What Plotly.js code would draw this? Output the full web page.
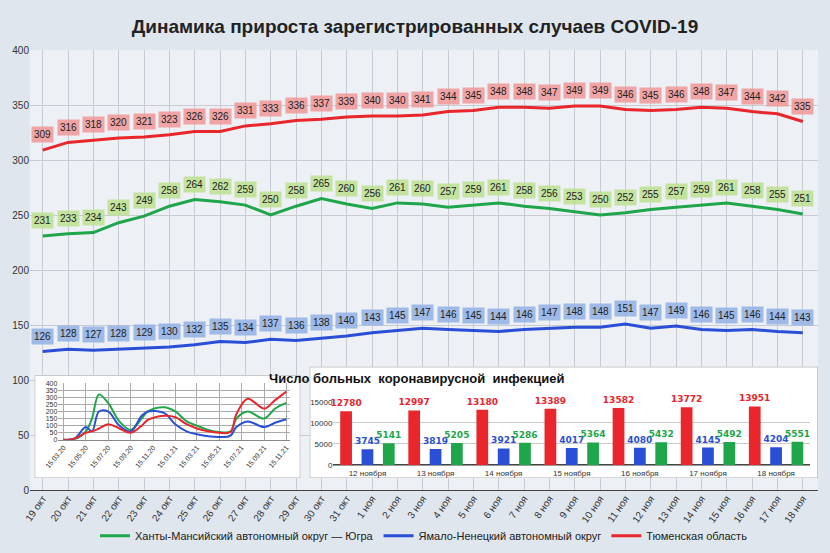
<!DOCTYPE html>
<html><head><meta charset="utf-8">
<script src="https://cdn.plot.ly/plotly-3.0.1.min.js"></script>
<style>body{margin:0}</style></head>
<body><div id="myPlot" style="width:830px;height:553px"></div>
<script>
var days = ["19 окт","20 окт","21 окт","22 окт","23 окт","24 окт","25 окт","26 окт","27 окт","28 окт","29 окт","30 окт","31 окт",
  "1 ноя","2 ноя","3 ноя","4 ноя","5 ноя","6 ноя","7 ноя","8 ноя","9 ноя","10 ноя","11 ноя","12 ноя","13 ноя","14 ноя","15 ноя","16 ноя","17 ноя","18 ноя"];
var tyumen = [309,316,318,320,321,323,326,326,331,333,336,337,339,340,340,341,344,345,348,348,347,349,349,346,345,346,348,347,344,342,335];
var hmao = [231,233,234,243,249,258,264,262,259,250,258,265,260,256,261,260,257,259,261,258,256,253,250,252,255,257,259,261,258,255,251];
var yanao = [126,128,127,128,129,130,132,135,134,137,136,138,140,143,145,147,146,145,144,146,147,148,148,151,147,149,146,145,146,144,143];

var smallDates = ["2020-03-15","2020-04-15","2020-05-15","2020-06-01","2020-06-20","2020-07-15","2020-08-15","2020-09-15","2020-10-15","2020-11-01",
  "2020-12-15","2021-01-15","2021-02-15","2021-03-15","2021-04-15","2021-05-15","2021-06-15","2021-07-01","2021-08-01","2021-09-15","2021-10-15","2021-11-15"];
var smallRed = [0,10,50,60,80,110,80,50,100,140,170,160,110,80,60,50,55,180,290,220,280,340];
var smallGreen = [0,5,60,150,320,260,130,70,150,200,230,200,130,100,70,55,60,150,200,150,220,260];
var smallBlue = [0,10,90,60,200,200,100,60,170,200,190,110,60,40,25,20,30,90,130,90,120,145];

var barDays = ["12 ноября","13 ноября","14 ноября","15 ноября","16 ноября","17 ноября","18 ноября"];
var barRed = [12780,12997,13180,13389,13582,13772,13951];
var barBlue = [3745,3819,3921,4017,4080,4145,4204];
var barGreen = [5141,5205,5286,5364,5432,5492,5551];

var RED = "#e8262b", GREEN = "#1fa64a", BLUE = "#2a4fd6";

var data = [
  {x: days, y: hmao, mode: "lines", line: {color: GREEN, width: 3}, name: "Ханты-Мансийский автономный округ — Югра"},
  {x: days, y: yanao, mode: "lines", line: {color: BLUE, width: 3}, name: "Ямало-Ненецкий автономный округ"},
  {x: days, y: tyumen, mode: "lines", line: {color: RED, width: 3}, name: "Тюменская область"},
  // white panels behind insets
  {x: [0,1,1,0,0], y: [0,0,1,1,0], xaxis: "x2", yaxis: "y2", mode: "lines", fill: "toself", fillcolor: "white",
   line: {color: "#999", width: 1}, showlegend: false, hoverinfo: "skip"},
  {x: [0,1,1,0,0], y: [0,0,1,1,0], xaxis: "x3", yaxis: "y3", mode: "lines", fill: "toself", fillcolor: "white",
   line: {color: "#999", width: 1}, showlegend: false, hoverinfo: "skip"},
  {x: smallDates, y: smallGreen, xaxis: "x4", yaxis: "y4", mode: "lines", line: {color: GREEN, width: 2, shape: "spline"}, showlegend: false},
  {x: smallDates, y: smallBlue, xaxis: "x4", yaxis: "y4", mode: "lines", line: {color: BLUE, width: 2, shape: "spline"}, showlegend: false},
  {x: smallDates, y: smallRed, xaxis: "x4", yaxis: "y4", mode: "lines", line: {color: RED, width: 2, shape: "spline"}, showlegend: false}
];
[[barRed, RED], [barBlue, BLUE], [barGreen, GREEN]].forEach(function (s) {
  data.push({type: "bar", x: barDays, y: s[0], xaxis: "x5", yaxis: "y5", marker: {color: s[1]},
    text: s[0].map(String), textposition: "outside", cliponaxis: false, constraintext: "none",
    textfont: {color: s[1], size: 9, family: "DejaVu Sans", weight: "bold"}, showlegend: false});
});

var annotations = [];
function labels(vals, bg) {
  vals.forEach(function (v, i) {
    annotations.push({x: days[i], y: v + 14, text: String(v), showarrow: false, bgcolor: bg,
      font: {size: 10, color: "#222", family: "Arial, Liberation Sans"}, borderpad: 2});
  });
}
labels(tyumen, "rgba(240,150,150,0.85)");
labels(hmao, "rgba(190,225,150,0.9)");
labels(yanao, "rgba(150,180,230,0.9)");
annotations.push({xref: "paper", yref: "paper", x: 0.68, y: 0.232, text: "<b>Число больных  коронавирусной  инфекцией</b>",
  showarrow: false, font: {size: 13, color: "#111", family: "Liberation Sans, Arial"}});

var layout = {
  width: 830, height: 553,
  margin: {l: 30, r: 12, t: 50, b: 63},
  paper_bgcolor: "#dfe6ee", plot_bgcolor: "rgba(255,255,255,0.45)",
  title: {text: "<b>Динамика прироста зарегистрированных случаев COVID-19</b>", x: 0.5, y: 0.965,
    font: {size: 19, color: "#222", family: "Liberation Sans, Arial"}},
  font: {family: "Liberation Sans, Arial", size: 10, color: "#333"},
  xaxis: {tickangle: -55, showgrid: true, gridcolor: "#c8ccd2", range: [-0.5, 30.6], tickfont: {size: 10}},
  yaxis: {range: [0, 400], dtick: 50, gridcolor: "#c8ccd2", tickfont: {size: 10}},
  xaxis2: {domain: [0.006, 0.343], range: [0, 1], visible: false, anchor: "y2"},
  yaxis2: {domain: [0.027, 0.261], range: [0, 1], visible: false, anchor: "x2"},
  xaxis3: {domain: [0.355, 1.0], range: [0, 1], visible: false, anchor: "y3"},
  yaxis3: {domain: [0.027, 0.28], range: [0, 1], visible: false, anchor: "x3"},
  xaxis4: {domain: [0.036, 0.33], anchor: "y4", type: "date", range: ["2020-03-01", "2021-11-25"],
    tickvals: ["2020-03-15","2020-05-15","2020-07-15","2020-09-15","2020-11-15","2021-01-15","2021-03-15","2021-05-15","2021-07-15","2021-09-15","2021-11-15"],
    ticktext: ["15.03.20","15.05.20","15.07.20","15.09.20","15.11.20","15.01.21","15.03.21","15.05.21","15.07.21","15.09.21","15.11.21"],
    tickangle: -50, tickfont: {size: 7}, gridcolor: "#aaa", showline: true, linecolor: "#888"},
  yaxis4: {domain: [0.114, 0.243], anchor: "x4", range: [0, 400], dtick: 50, tickfont: {size: 7}, gridcolor: "#aaa"},
  xaxis5: {domain: [0.385, 0.99], anchor: "y5", tickfont: {size: 8}, showgrid: false, showline: true, linecolor: "#999"},
  yaxis5: {domain: [0.057, 0.2], anchor: "x5", range: [0, 15000], tickvals: [0, 5000, 10000, 15000], tickformat: "d",
    tickfont: {size: 8}, gridcolor: "#ccc"},
  barmode: "group", bargap: 0.06, bargroupgap: 0.45,
  showlegend: true,
  legend: {orientation: "h", x: 0.5, xanchor: "center", yref: "container", y: 0.005, yanchor: "bottom",
    font: {size: 11, color: "#222"}, bgcolor: "rgba(0,0,0,0)"},
  annotations: annotations
};
Plotly.newPlot("myPlot", data, layout, {displayModeBar: false});
</script></body></html>
